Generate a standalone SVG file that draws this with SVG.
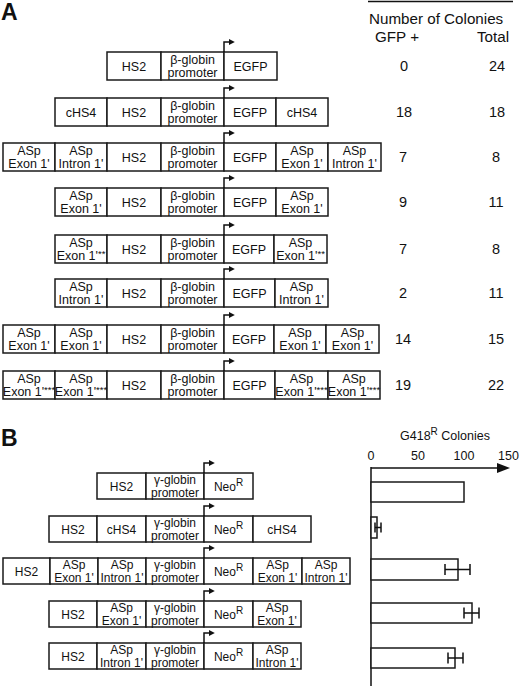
<svg xmlns="http://www.w3.org/2000/svg" width="520" height="686" viewBox="0 0 520 686">
<style>
text{font-family:"Liberation Sans",Arial,sans-serif;fill:#111}
.c rect{fill:#fff;stroke:#1a1a1a;stroke-width:1.5}
.a text{font-size:12.5px;text-anchor:middle}
.b text{font-size:12px;text-anchor:middle}
.n{font-size:14.5px;text-anchor:middle}
.lab{font-size:23px;font-weight:bold}
.hd{font-size:15.2px}
.ar{fill:none;stroke:#111;stroke-width:1.5}
.tk{font-size:12.5px;text-anchor:middle}
.bar{fill:#fff;stroke:#1a1a1a;stroke-width:1.5}
.eb{fill:none;stroke:#111;stroke-width:1.5}
.s{font-size:9.5px}
</style>
<defs>
<marker id="ah" viewBox="0 0 10 10" refX="2" refY="5" markerWidth="4" markerHeight="4" orient="auto"><path d="M0,0 L10,5 L0,10 z" fill="#111"/></marker>
</defs>
<rect width="520" height="686" fill="#fff"/>
<text class="lab" x="1" y="20">A</text>
<text class="lab" x="1" y="446">B</text>
<g id="header">
<line x1="368" y1="1.5" x2="513" y2="1.5" stroke="#111" stroke-width="1.5"/>
<text class="hd" x="369" y="24">Number of Colonies</text>
<text class="hd" x="375" y="41.5">GFP +</text>
<text class="hd" x="477" y="41.5">Total</text>
</g>

<g id="a1" class="c a">
<rect x="107" y="52" width="54" height="28"/><rect x="161" y="52" width="63" height="28"/><rect x="224" y="52" width="53" height="28"/>
<text x="134" y="71">HS2</text><text x="192.5" y="63.5">β-globin</text><text x="192.5" y="76.5">promoter</text><text x="250.5" y="71">EGFP</text>
</g>
<g id="a2" class="c a">
<rect x="55" y="98" width="52" height="28"/><rect x="107" y="98" width="54" height="28"/><rect x="161" y="98" width="63" height="28"/><rect x="224" y="98" width="52" height="28"/><rect x="276" y="98" width="52" height="28"/>
<text x="81" y="117">cHS4</text><text x="134" y="117">HS2</text><text x="192.5" y="109.5">β-globin</text><text x="192.5" y="122.5">promoter</text><text x="250" y="117">EGFP</text><text x="302" y="117">cHS4</text>
</g>
<g id="a3" class="c a">
<rect x="3" y="143" width="52" height="28"/><rect x="55" y="143" width="52" height="28"/><rect x="107" y="143" width="54" height="28"/><rect x="161" y="143" width="63" height="28"/><rect x="224" y="143" width="52" height="28"/><rect x="276" y="143" width="52" height="28"/><rect x="328" y="143" width="53" height="28"/>
<text x="29" y="154.5">ASp</text><text x="29" y="167.5">Exon 1'</text>
<text x="81" y="154.5">ASp</text><text x="81" y="167.5">Intron 1'</text>
<text x="134" y="162">HS2</text><text x="192.5" y="154.5">β-globin</text><text x="192.5" y="167.5">promoter</text><text x="250" y="162">EGFP</text>
<text x="302" y="154.5">ASp</text><text x="302" y="167.5">Exon 1'</text>
<text x="354.5" y="154.5">ASp</text><text x="354.5" y="167.5">Intron 1'</text>
</g>
<g id="a4" class="c a">
<rect x="55" y="188" width="52" height="28"/><rect x="107" y="188" width="54" height="28"/><rect x="161" y="188" width="63" height="28"/><rect x="224" y="188" width="52" height="28"/><rect x="276" y="188" width="52" height="28"/>
<text x="81" y="199.5">ASp</text><text x="81" y="212.5">Exon 1'</text>
<text x="134" y="207">HS2</text><text x="192.5" y="199.5">β-globin</text><text x="192.5" y="212.5">promoter</text><text x="250" y="207">EGFP</text>
<text x="302" y="199.5">ASp</text><text x="302" y="212.5">Exon 1'</text>
</g>
<g id="a5" class="c a">
<rect x="55" y="235" width="52" height="28"/><rect x="107" y="235" width="54" height="28"/><rect x="161" y="235" width="63" height="28"/><rect x="224" y="235" width="50" height="28"/><rect x="274" y="235" width="53" height="28"/>
<text x="81" y="246.5">ASp</text><text x="81" y="259.5">Exon 1'<tspan class="s" dy="-3">**</tspan></text>
<text x="134" y="254">HS2</text><text x="192.5" y="246.5">β-globin</text><text x="192.5" y="259.5">promoter</text><text x="249" y="254">EGFP</text>
<text x="300.5" y="246.5">ASp</text><text x="300.5" y="259.5">Exon 1'<tspan class="s" dy="-3">**</tspan></text>
</g>
<g id="a6" class="c a">
<rect x="55" y="279" width="52" height="28"/><rect x="107" y="279" width="54" height="28"/><rect x="161" y="279" width="63" height="28"/><rect x="224" y="279" width="51" height="28"/><rect x="275" y="279" width="53" height="28"/>
<text x="81" y="290.5">ASp</text><text x="81" y="303.5">Intron 1'</text>
<text x="134" y="298">HS2</text><text x="192.5" y="290.5">β-globin</text><text x="192.5" y="303.5">promoter</text><text x="249.5" y="298">EGFP</text>
<text x="301.5" y="290.5">ASp</text><text x="301.5" y="303.5">Intron 1'</text>
</g>
<g id="a7" class="c a">
<rect x="3" y="325" width="52" height="28"/><rect x="55" y="325" width="52" height="28"/><rect x="107" y="325" width="54" height="28"/><rect x="161" y="325" width="63" height="28"/><rect x="224" y="325" width="50" height="28"/><rect x="274" y="325" width="52" height="28"/><rect x="326" y="325" width="53" height="28"/>
<text x="29" y="336.5">ASp</text><text x="29" y="349.5">Exon 1'</text>
<text x="81" y="336.5">ASp</text><text x="81" y="349.5">Exon 1'</text>
<text x="134" y="344">HS2</text><text x="192.5" y="336.5">β-globin</text><text x="192.5" y="349.5">promoter</text><text x="249" y="344">EGFP</text>
<text x="300" y="336.5">ASp</text><text x="300" y="349.5">Exon 1'</text>
<text x="352.5" y="336.5">ASp</text><text x="352.5" y="349.5">Exon 1'</text>
</g>
<g id="a8" class="c a">
<rect x="3" y="371" width="52" height="28"/><rect x="55" y="371" width="52" height="28"/><rect x="107" y="371" width="54" height="28"/><rect x="161" y="371" width="63" height="28"/><rect x="224" y="371" width="51" height="28"/><rect x="275" y="371" width="53" height="28"/><rect x="328" y="371" width="52" height="28"/>
<text x="29" y="382.5">ASp</text><text x="29" y="395.5">Exon 1'<tspan class="s" dy="-3">***</tspan></text>
<text x="81" y="382.5">ASp</text><text x="81" y="395.5">Exon 1'<tspan class="s" dy="-3">***</tspan></text>
<text x="134" y="390">HS2</text><text x="192.5" y="382.5">β-globin</text><text x="192.5" y="395.5">promoter</text><text x="249.5" y="390">EGFP</text>
<text x="301.5" y="382.5">ASp</text><text x="301.5" y="395.5">Exon 1'<tspan class="s" dy="-3">***</tspan></text>
<text x="354" y="382.5">ASp</text><text x="354" y="395.5">Exon 1'<tspan class="s" dy="-3">***</tspan></text>
</g>

<g id="counts">
<text class="n" x="404" y="71">0</text><text class="n" x="497" y="71">24</text>
<text class="n" x="404" y="117">18</text><text class="n" x="497" y="117">18</text>
<text class="n" x="403" y="162">7</text><text class="n" x="496" y="162">8</text>
<text class="n" x="403" y="207">9</text><text class="n" x="496" y="207">11</text>
<text class="n" x="403" y="254">7</text><text class="n" x="496" y="254">8</text>
<text class="n" x="403" y="298">2</text><text class="n" x="496" y="298">11</text>
<text class="n" x="403" y="344">14</text><text class="n" x="496" y="344">15</text>
<text class="n" x="403" y="390">19</text><text class="n" x="496" y="390">22</text>
</g>

<g id="b1" class="c b">
<rect x="97" y="473" width="49" height="26"/><rect x="146" y="473" width="58" height="26"/><rect x="204" y="473" width="49" height="26"/>
<text x="121.5" y="490.5">HS2</text><text x="175" y="484">γ-globin</text><text x="175" y="496.5">promoter</text><text x="228.5" y="490.5">Neo<tspan font-size="10" dy="-5">R</tspan></text>
</g>
<g id="b2" class="c b">
<rect x="49" y="516" width="48" height="26"/><rect x="97" y="516" width="49" height="26"/><rect x="146" y="516" width="58" height="26"/><rect x="204" y="516" width="49" height="26"/><rect x="253" y="516" width="58" height="26"/>
<text x="73" y="533.5">HS2</text><text x="121.5" y="533.5">cHS4</text><text x="175" y="527">γ-globin</text><text x="175" y="539.5">promoter</text><text x="228.5" y="533.5">Neo<tspan font-size="10" dy="-5">R</tspan></text><text x="282" y="533.5">cHS4</text>
</g>
<g id="b3" class="c b">
<rect x="3" y="558" width="47" height="26"/><rect x="50" y="558" width="48" height="26"/><rect x="98" y="558" width="48" height="26"/><rect x="146" y="558" width="58" height="26"/><rect x="204" y="558" width="49" height="26"/><rect x="253" y="558" width="49" height="26"/><rect x="302" y="558" width="48" height="26"/>
<text x="26.5" y="575.5">HS2</text>
<text x="74" y="569">ASp</text><text x="74" y="581.5">Exon 1'</text>
<text x="122" y="569">ASp</text><text x="122" y="581.5">Intron 1'</text>
<text x="175" y="569">γ-globin</text><text x="175" y="581.5">promoter</text><text x="228.5" y="575.5">Neo<tspan font-size="10" dy="-5">R</tspan></text>
<text x="277.5" y="569">ASp</text><text x="277.5" y="581.5">Exon 1'</text>
<text x="326" y="569">ASp</text><text x="326" y="581.5">Intron 1'</text>
</g>
<g id="b4" class="c b">
<rect x="49" y="601" width="48" height="26"/><rect x="97" y="601" width="49" height="26"/><rect x="146" y="601" width="58" height="26"/><rect x="204" y="601" width="49" height="26"/><rect x="253" y="601" width="48" height="26"/>
<text x="73" y="618.5">HS2</text>
<text x="121.5" y="612">ASp</text><text x="121.5" y="624.5">Exon 1'</text>
<text x="175" y="612">γ-globin</text><text x="175" y="624.5">promoter</text><text x="228.5" y="618.5">Neo<tspan font-size="10" dy="-5">R</tspan></text>
<text x="277" y="612">ASp</text><text x="277" y="624.5">Exon 1'</text>
</g>
<g id="b5" class="c b">
<rect x="49" y="643" width="48" height="26"/><rect x="97" y="643" width="49" height="26"/><rect x="146" y="643" width="58" height="26"/><rect x="204" y="643" width="49" height="26"/><rect x="253" y="643" width="48" height="26"/>
<text x="73" y="660.5">HS2</text>
<text x="121.5" y="654">ASp</text><text x="121.5" y="666.5">Intron 1'</text>
<text x="175" y="654">γ-globin</text><text x="175" y="666.5">promoter</text><text x="228.5" y="660.5">Neo<tspan font-size="10" dy="-5">R</tspan></text>
<text x="277" y="654">ASp</text><text x="277" y="666.5">Intron 1'</text>
</g>

<g id="connectors" class="ar">
<path d="M224,52 V42 H230" marker-end="url(#ah)"/>
<path d="M224,98 V88 H230" marker-end="url(#ah)"/>
<path d="M224,143 V133 H230" marker-end="url(#ah)"/>
<path d="M224,188 V178 H230" marker-end="url(#ah)"/>
<path d="M224,235 V225 H230" marker-end="url(#ah)"/>
<path d="M224,279 V269 H230" marker-end="url(#ah)"/>
<path d="M224,325 V315 H230" marker-end="url(#ah)"/>
<path d="M224,371 V361 H230" marker-end="url(#ah)"/>
<path d="M204,473 V463 H210" marker-end="url(#ah)"/>
<path d="M204,516 V506 H210" marker-end="url(#ah)"/>
<path d="M204,558 V548 H210" marker-end="url(#ah)"/>
<path d="M204,601 V591 H210" marker-end="url(#ah)"/>
<path d="M204,643 V633 H210" marker-end="url(#ah)"/>
</g>

<g id="chart">
<text class="tk" x="445" y="440">G418<tspan font-size="10" dy="-5">R</tspan><tspan dy="5"> Colonies</tspan></text>
<text class="tk" x="371" y="460">0</text>
<text class="tk" x="418" y="460">50</text>
<text class="tk" x="464" y="460">100</text>
<text class="tk" x="508.5" y="460">150</text>
<line x1="371" y1="467" x2="371" y2="686" stroke="#111" stroke-width="1.5"/>
<line x1="371" y1="468" x2="499" y2="468" stroke="#111" stroke-width="1.5"/>
<path d="M497,463 L510,468 L497,473 z" fill="#111"/>
<rect class="bar" x="371" y="482" width="93" height="20"/>
<rect class="bar" x="371" y="517" width="6" height="21"/>
<rect class="bar" x="371" y="559" width="87" height="21"/>
<rect class="bar" x="371" y="603" width="101" height="20"/>
<rect class="bar" x="371" y="648" width="84" height="20"/>
<path class="eb" d="M375,522.5 V532.5 M375,527.5 H381 M381,522.5 V532.5"/>
<path class="eb" d="M445,564 V575 M445,569.5 H470 M470,564 V575"/>
<path class="eb" d="M464,607.5 V618.5 M464,613 H479 M479,607.5 V618.5"/>
<path class="eb" d="M448,652.5 V663.5 M448,658 H463 M463,652.5 V663.5"/>
</g>
</svg>
